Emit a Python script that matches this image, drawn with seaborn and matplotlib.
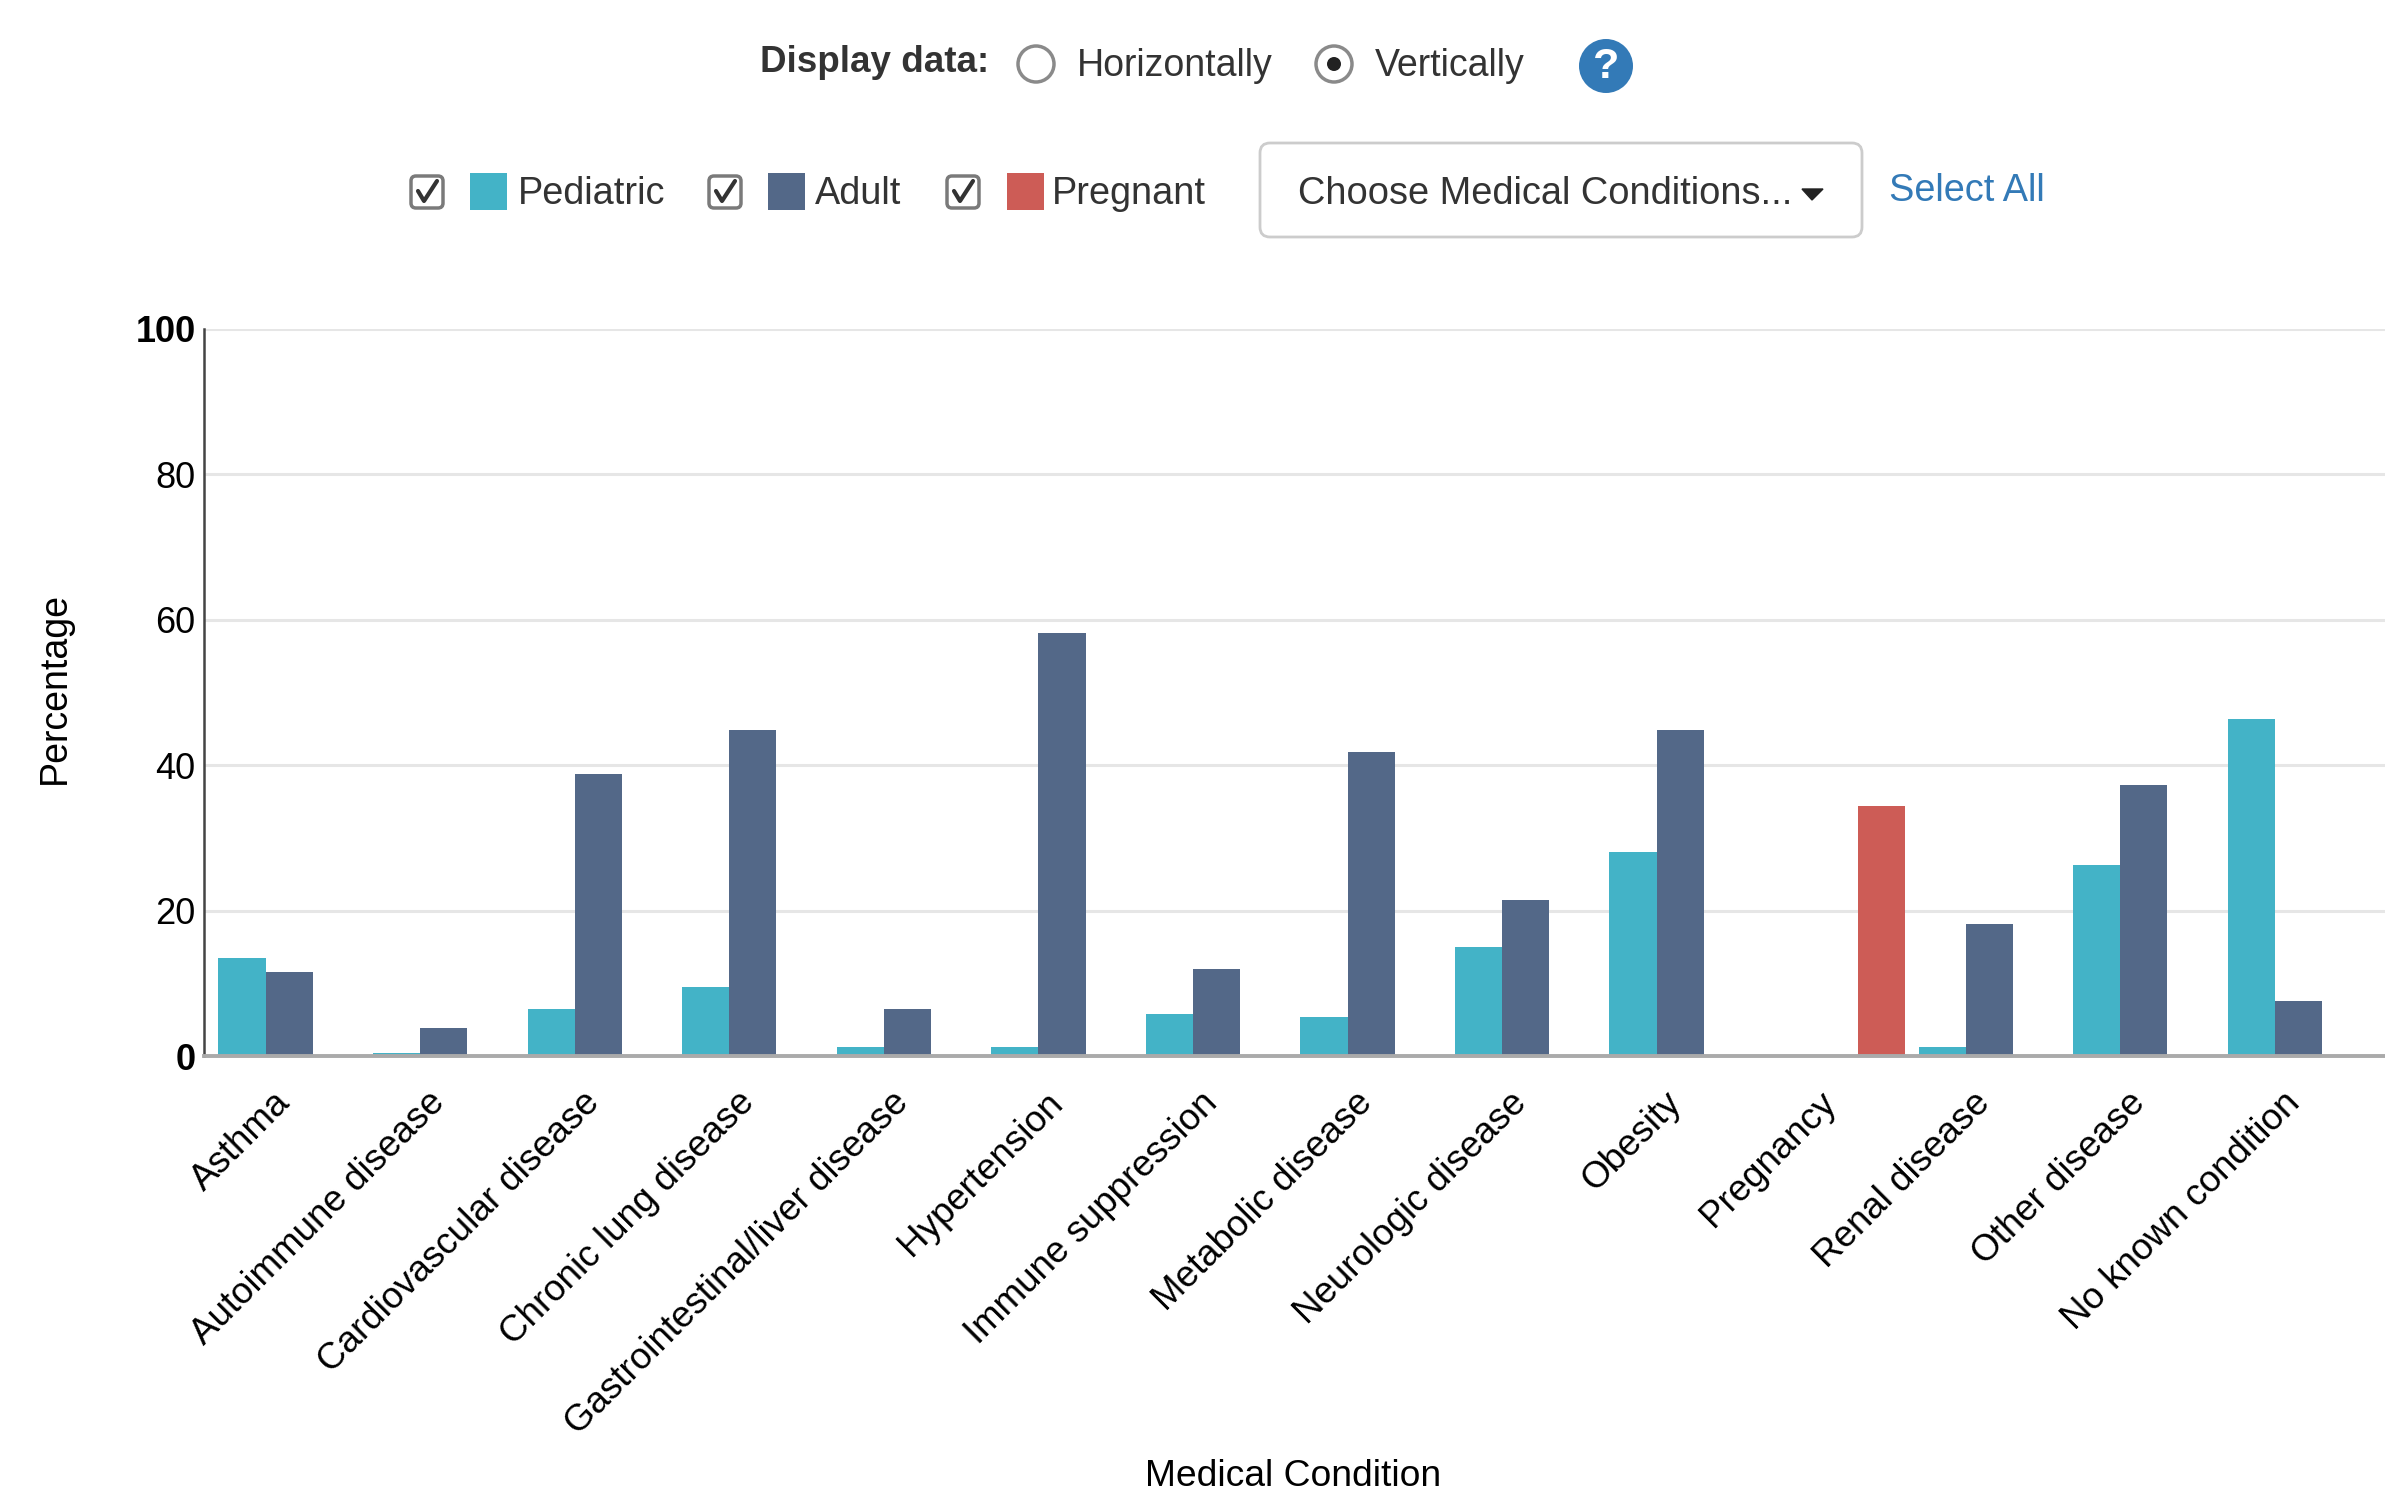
"""
Grouped bars of medical conditions by patient group, with the page controls above them.
"""
# Import Standard Libraries
import matplotlib.pyplot as plt
from matplotlib.patches import Circle, FancyBboxPatch, Rectangle
from matplotlib.transforms import ScaledTranslation
import numpy as np
import pandas as pd
import seaborn as sns

# Chart data
conditions = ['Asthma', 'Autoimmune disease', 'Cardiovascular disease', 'Chronic lung disease',
              'Gastrointestinal/liver disease', 'Hypertension', 'Immune suppression',
              'Metabolic disease', 'Neurologic disease', 'Obesity', 'Pregnancy',
              'Renal disease', 'Other disease', 'No known condition']
pediatric = [13.5, 0.4, 6.5, 9.5, 1.3, 1.3, 5.8, 5.3, 15.0, 28.1, np.nan, 1.3, 26.3, 46.4]
adult = [11.6, 3.8, 38.8, 44.9, 6.4, 58.2, 12.0, 41.8, 21.5, 44.9, np.nan, 18.2, 37.3, 7.5]
pregnant = [np.nan] * 10 + [34.4] + [np.nan] * 3
y_ticks = [0, 20, 40, 60, 80, 100]

# Colors
group_colors = {'Pediatric': '#43B3C7', 'Adult': '#536888', 'Pregnant': '#CD5C56'}
ui_text = '#333333'
link_blue = '#337AB7'

WIDTH, HEIGHT = 2385, 1494
FONT = 'Liberation Sans'


def draw_chart(fig: plt.Figure) -> None:
    """
    Draws the grouped bars through seaborn.
    """
    ax = fig.add_axes([204 / WIDTH, 1 - 1056 / HEIGHT, 1 - 204 / WIDTH, (1056 - 329) / HEIGHT])

    # Long table, one row per bar
    table = pd.DataFrame({'Pediatric': pediatric, 'Adult': adult, 'Pregnant': pregnant},
                         index=pd.Index(conditions, name='condition'))
    long_table = table.reset_index().melt(id_vars='condition', var_name='group', value_name='pct')

    sns.barplot(data=long_table, x='condition', y='pct', hue='group',
                hue_order=list(group_colors), order=conditions, palette=group_colors,
                width=0.915, gap=0, saturation=1, errorbar=None, legend=False,
                linewidth=0, zorder=3, ax=ax)

    # Limits and grid
    ax.set_xlim(-0.551, 13.56)
    ax.set_ylim(0, 100)
    ax.set_yticks(y_ticks)
    ax.grid(axis='y', color='#e6e6e6', linewidth=2.2, zorder=0)
    ax.grid(axis='x', visible=False)
    ax.set_axisbelow(True)

    # Spines
    for side in ['top', 'right']:
        ax.spines[side].set_visible(False)
    ax.spines['left'].set_color('#444444')
    ax.spines['left'].set_linewidth(1.8)
    ax.spines['bottom'].set_color('#aaaaaa')
    ax.spines['bottom'].set_linewidth(2.8)
    ax.spines['bottom'].set_zorder(4)

    # Tick labels
    ax.tick_params(axis='y', length=0, labelsize=26, labelcolor='black', pad=6)
    ax.tick_params(axis='x', length=0, labelsize=26.5, labelcolor='black', pad=21)
    plt.setp(ax.get_xticklabels(), rotation=45, ha='right', va='top', rotation_mode='anchor')
    shift_left = ScaledTranslation(-16.5 / 100, 0, fig.dpi_scale_trans)
    for label in ax.get_xticklabels():
        label.set_transform(label.get_transform() + shift_left)
    for label, value in zip(ax.get_yticklabels(), y_ticks):
        if value in (0, 100):
            label.set_fontweight('bold')

    # Axis titles
    ax.set_xlabel('')
    ax.set_ylabel('')
    fig.text(55 / WIDTH, 1 - 688 / HEIGHT, 'Percentage', rotation=90, fontsize=27,
             ha='center', va='center', color='black')
    fig.text(1293 / WIDTH, 1 - 1476 / HEIGHT, 'Medical Condition', fontsize=26.8,
             ha='center', va='center', color='black')


def draw_controls(fig: plt.Figure) -> None:
    """
    Draws the radio buttons, checkboxes and dropdown above the chart, in pixel coordinates.
    """
    ui = fig.add_axes([0, 0, 1, 1], facecolor='none')
    ui.set_xlim(0, WIDTH)
    ui.set_ylim(HEIGHT, 0)
    ui.axis('off')

    # Display data row
    ui.text(760, 62, 'Display data:', fontsize=26.5, fontweight='bold', color=ui_text, va='center')
    for x in [1036, 1334]:
        ui.add_patch(Circle((x, 64), 18, facecolor='white', edgecolor='#8a8a8a', linewidth=2.5))
    ui.add_patch(Circle((1334, 64), 7, facecolor='#222222', edgecolor='none'))
    ui.text(1077, 66, 'Horizontally', fontsize=27, color=ui_text, va='center')
    ui.text(1375, 66, 'Vertically', fontsize=27, color=ui_text, va='center')
    ui.add_patch(Circle((1606, 66), 27, facecolor=link_blue, edgecolor='none'))
    ui.text(1606, 67, '?', fontsize=31, fontweight='bold', color='white', ha='center', va='center')

    # Group checkboxes with colour swatches
    rows = [(427, 470, 518, 'Pediatric'), (725, 768, 815, 'Adult'), (963, 1007, 1052, 'Pregnant')]
    for box_x, swatch_x, text_x, name in rows:
        ui.add_patch(FancyBboxPatch((box_x - 15, 177), 30, 30, boxstyle='round,pad=1,rounding_size=5',
                                    facecolor='white', edgecolor='#7a7a7a', linewidth=2.5))
        ui.plot([box_x - 9, box_x - 3, box_x + 10], [191, 201, 181], color='#333333', linewidth=3)
        ui.add_patch(Rectangle((swatch_x, 173), 37, 37, facecolor=group_colors[name], edgecolor='none'))
        ui.text(text_x, 194, name, fontsize=27.3, color=ui_text, va='center')

    # Dropdown and link
    ui.add_patch(FancyBboxPatch((1268, 151), 586, 78, boxstyle='round,pad=8,rounding_size=10',
                                facecolor='white', edgecolor='#cccccc', linewidth=2))
    ui.text(1298, 194, 'Choose Medical Conditions...', fontsize=27.4, color=ui_text, va='center')
    ui.fill([1802, 1823, 1812], [189, 189, 200], color='#222222')
    ui.text(1889, 191, 'Select All', fontsize=27.3, color=link_blue, va='center')


sns.set_theme(style='white')
plt.rcParams['font.family'] = [FONT, 'DejaVu Sans']

figure = plt.figure(figsize=(WIDTH / 100, HEIGHT / 100), dpi=100, facecolor='white')
draw_chart(figure)
draw_controls(figure)
figure.savefig('out.png', dpi=100)
